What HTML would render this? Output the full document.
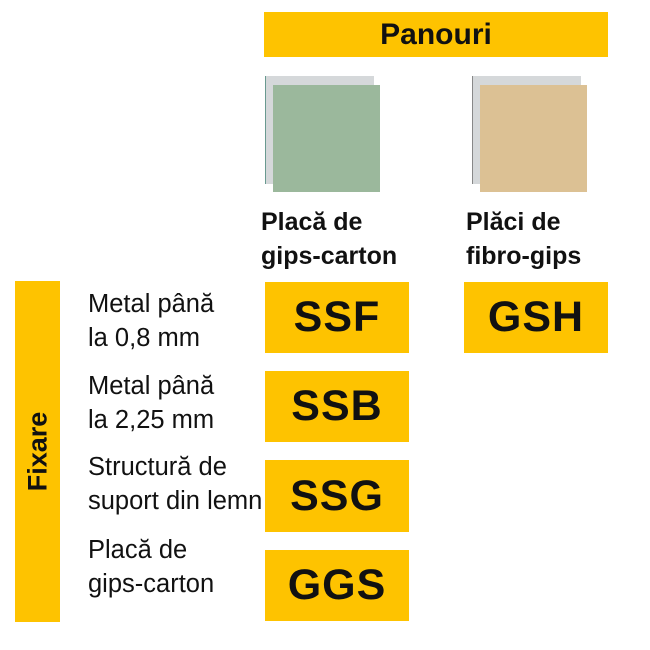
<!DOCTYPE html>
<html><head><meta charset="utf-8"><style>
body{margin:0;width:650px;height:650px;background:#fff;position:relative;font-family:"Liberation Sans",sans-serif;overflow:hidden}
.y{position:absolute;background:#fec300}
.b{position:absolute;background:#fec300;display:flex;align-items:center;justify-content:center;font-weight:bold;font-size:43px;color:#111;letter-spacing:1px}
.t{position:absolute;font-size:25.5px;line-height:34px;color:#111}
.h{position:absolute;font-size:25px;line-height:34px;font-weight:bold;color:#111}
</style></head><body>
<div class="y" style="left:264px;top:12px;width:344px;height:45px;display:flex;align-items:center;justify-content:center;font-weight:bold;font-size:30px;color:#111">Panouri</div>
<div class="y" style="left:15px;top:281px;width:45px;height:341px"></div>
<div style="position:absolute;left:15px;top:281px;width:45px;height:341px;display:flex;align-items:center;justify-content:center"><div style="transform:rotate(-90deg);font-weight:bold;font-size:27px;color:#111">Fixare</div></div>
<div style="position:absolute;left:265px;top:76px;width:108px;height:108px;background:#d5d8da;border-left:1px solid #6a9a90"></div>
<div style="position:absolute;left:273px;top:85px;width:107px;height:107px;background:#9bb89c"></div>
<div style="position:absolute;left:472px;top:76px;width:108px;height:108px;background:#d5d8da;border-left:1px solid #888"></div>
<div style="position:absolute;left:480px;top:85px;width:107px;height:107px;background:#dcc194"></div>
<div class="h" style="left:261px;top:205px">Placă de<br>gips-carton</div>
<div class="h" style="left:466px;top:205px">Plăci de<br>fibro-gips</div>
<div class="b" style="left:265px;top:282px;width:144px;height:71px">SSF</div>
<div class="b" style="left:464px;top:282px;width:144px;height:71px">GSH</div>
<div class="b" style="left:265px;top:371px;width:144px;height:71px">SSB</div>
<div class="b" style="left:265px;top:460px;width:144px;height:72px">SSG</div>
<div class="b" style="left:265px;top:550px;width:144px;height:71px">GGS</div>
<div class="t" style="left:88px;top:287px">Metal până<br>la 0,8 mm</div>
<div class="t" style="left:88px;top:369px">Metal până<br>la 2,25 mm</div>
<div class="t" style="left:88px;top:450px">Structură de<br>suport din lemn</div>
<div class="t" style="left:88px;top:533px">Placă de<br>gips-carton</div>
</body></html>
